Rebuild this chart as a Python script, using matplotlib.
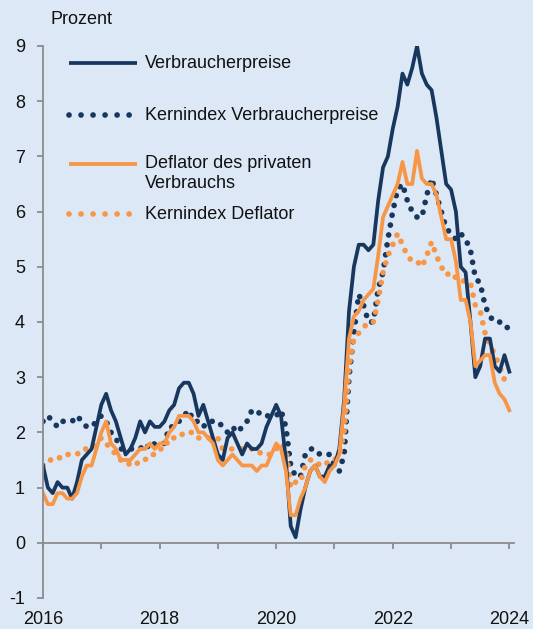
import matplotlib
matplotlib.use("Agg")
import matplotlib.pyplot as plt
import numpy as np

plt.rcParams['font.family'] = ['Liberation Sans', 'DejaVu Sans']
plt.rcParams['axes.unicode_minus'] = False

# monthly year-on-year rates, Jan 2016 - Jan 2024 (percent)
verbraucherpreise = [
    1.4, 1.0, 0.9, 1.1, 1.0, 1.0, 0.8, 1.1, 1.5, 1.6, 1.7, 2.1,
    2.5, 2.7, 2.4, 2.2, 1.9, 1.6, 1.7, 1.9, 2.2, 2.0, 2.2, 2.1,
    2.1, 2.2, 2.4, 2.5, 2.8, 2.9, 2.9, 2.7, 2.3, 2.5, 2.2, 1.9,
    1.6, 1.5, 1.9, 2.0, 1.8, 1.6, 1.8, 1.7, 1.7, 1.8, 2.1, 2.3,
    2.5, 2.3, 1.5, 0.3, 0.1, 0.6, 1.0, 1.3, 1.4, 1.2, 1.2, 1.4,
    1.4, 1.7, 2.6, 4.2, 5.0, 5.4, 5.4, 5.3, 5.4, 6.2, 6.8, 7.0,
    7.5, 7.9, 8.5, 8.3, 8.6, 9.0, 8.5, 8.3, 8.2, 7.7, 7.1, 6.5,
    6.4, 6.0, 5.0, 4.9, 4.0, 3.0, 3.2, 3.7, 3.7, 3.2, 3.1, 3.4,
    3.1,
]
kern_vpi = [
    2.2, 2.3, 2.2, 2.1, 2.2, 2.2, 2.2, 2.3, 2.2, 2.1, 2.1, 2.2,
    2.3, 2.2, 2.0, 1.9, 1.7, 1.7, 1.7, 1.7, 1.7, 1.8, 1.7, 1.8,
    1.8, 1.8, 2.1, 2.1, 2.2, 2.3, 2.4, 2.2, 2.2, 2.1, 2.2, 2.2,
    2.2, 2.1, 2.0, 2.1, 2.0, 2.1, 2.2, 2.4, 2.4, 2.3, 2.3, 2.3,
    2.3, 2.4, 2.1, 1.4, 1.2, 1.2, 1.6, 1.7, 1.7, 1.6, 1.6, 1.6,
    1.4, 1.3, 1.6, 3.0, 3.8, 4.5, 4.3, 4.0, 4.0, 4.6, 4.9, 5.5,
    6.0, 6.4, 6.5, 6.2, 6.0, 5.9, 5.9, 6.3, 6.6, 6.3, 6.0, 5.7,
    5.6, 5.5, 5.6, 5.5, 5.3, 4.8, 4.7, 4.3, 4.1, 4.0, 4.0, 3.9,
    3.9,
]
deflator = [
    0.9, 0.7, 0.7, 0.9, 0.9, 0.8, 0.8, 0.9, 1.2, 1.4, 1.4, 1.7,
    2.0, 2.2, 1.8, 1.7, 1.5, 1.5, 1.5, 1.6, 1.7, 1.7, 1.8, 1.7,
    1.8, 1.8, 2.0, 2.1, 2.3, 2.3, 2.3, 2.2, 2.0, 2.0, 1.9, 1.8,
    1.5, 1.4, 1.5, 1.6, 1.5, 1.4, 1.4, 1.4, 1.3, 1.4, 1.4, 1.6,
    1.8, 1.7, 1.3, 0.5, 0.5, 0.8, 1.0, 1.3, 1.4, 1.2, 1.1, 1.3,
    1.4, 1.6, 2.5, 3.7, 4.1, 4.2, 4.4, 4.5, 4.6, 5.2, 5.9, 6.1,
    6.3, 6.5, 6.9, 6.5, 6.5, 7.1, 6.6, 6.5, 6.5, 6.3, 5.9, 5.5,
    5.5, 5.1, 4.4, 4.4, 4.0, 3.2, 3.3, 3.4, 3.4, 2.9, 2.7, 2.6,
    2.4,
]
kern_deflator = [
    1.4, 1.5, 1.5, 1.5, 1.6, 1.6, 1.6, 1.6, 1.7, 1.7, 1.7, 1.8,
    1.9, 1.8, 1.7, 1.6, 1.5, 1.5, 1.4, 1.4, 1.5, 1.5, 1.6, 1.6,
    1.7, 1.7, 1.9, 1.9, 1.9, 2.0, 2.0, 2.0, 1.9, 1.9, 1.9, 1.9,
    1.9, 1.7, 1.7, 1.7, 1.7, 1.7, 1.7, 1.7, 1.7, 1.6, 1.6, 1.6,
    1.7, 1.8, 1.7, 1.0, 1.1, 1.1, 1.4, 1.5, 1.5, 1.4, 1.4, 1.5,
    1.5, 1.6, 2.0, 3.2, 3.7, 3.8, 3.9, 4.0, 4.0, 4.4, 4.9, 5.2,
    5.4, 5.6, 5.4, 5.2, 5.1, 5.1, 5.0, 5.2, 5.45, 5.2, 5.0, 4.85,
    4.9, 4.8, 4.8, 4.7, 4.7, 4.3, 4.2, 3.8, 3.6, 3.4, 3.2, 2.95,
    2.85,
]
dates = 2016 + np.arange(len(verbraucherpreise)) / 12

years = list(range(2016, 2025))
year_labels = [str(y) if y % 2 == 0 else '' for y in years]

navy = '#17375e'
orange = '#f79646'
bg = '#dce8f6'
grey = '#8c8c8c'

fig = plt.figure(figsize=(5.33, 6.29), dpi=100, facecolor=bg)
ax = fig.add_axes([43 / 533, 1 - 598 / 629, 471 / 533, 552 / 629])
ax.set_facecolor(bg)

solid_lw = 2.7
dot_lw = 4.1
dots = (0, (0.01, 1.75))
legend_dots = (0, (0.01, 2.1))

ax.plot(dates, kern_vpi, color=navy, lw=dot_lw, ls=dots, dash_capstyle='round')
ax.plot(dates, kern_deflator, color=orange, lw=dot_lw, ls=dots, dash_capstyle='round')
ax.plot(dates, verbraucherpreise, color=navy, lw=solid_lw)
ax.plot(dates, deflator, color=orange, lw=solid_lw)

ax.set_xlim(2016, 2024.08)
ax.set_ylim(-1, 9)
ax.set_yticks(range(-1, 10))
ax.set_xticks(years)
ax.set_xticklabels(year_labels)

for s in ['top', 'right']:
    ax.spines[s].set_visible(False)
ax.spines['bottom'].set_position(('data', 0))
for s in ['left', 'bottom']:
    ax.spines[s].set_color(grey)
    ax.spines[s].set_linewidth(1.3)
ax.tick_params(axis='both', colors=grey, length=4, width=1.3, labelsize=13,
               labelcolor='#111111')
ax.tick_params(axis='y', pad=9)
ax.tick_params(axis='x', pad=45)

fig.text(50 / 533, 1 - 20 / 629, 'Prozent', fontsize=13, va='center', color='#111111')

# legend drawn by hand (rows are unevenly spaced in the original)
legend_rows = [
    ('Verbraucherpreise', navy, '-', 63),
    ('Kernindex Verbraucherpreise', navy, legend_dots, 115),
    ('Deflator des privaten', orange, '-', 164),
    ('Kernindex Deflator', orange, legend_dots, 214),
]
for label, color, ls, ypx in legend_rows:
    yf = 1 - ypx / 629
    lw = solid_lw if ls == '-' else dot_lw
    fig.add_artist(plt.Line2D([69 / 533, 137 / 533], [yf, yf], color=color, lw=lw,
                              ls=ls, dash_capstyle='round', solid_capstyle='butt'))
    fig.text(145 / 533, yf, label, fontsize=13, va='center', color='#111111')
fig.text(145 / 533, 1 - 184 / 629, 'Verbrauchs', fontsize=13, va='center', color='#111111')

fig.savefig('out.png', dpi=100, facecolor=bg)
